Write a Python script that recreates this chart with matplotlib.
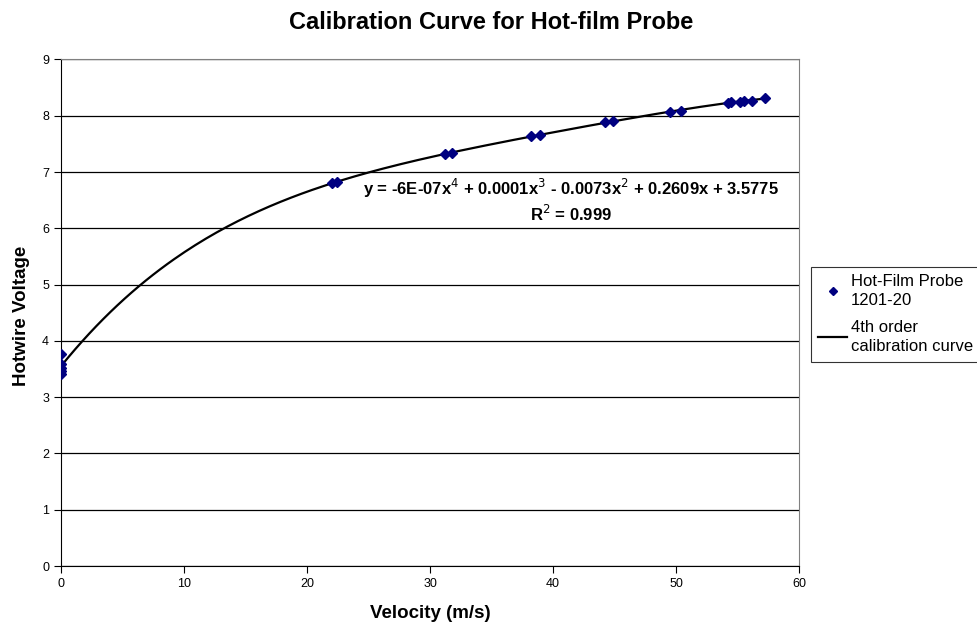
import matplotlib
matplotlib.use('Agg')
import matplotlib.pyplot as plt
import numpy as np

plt.rcParams['font.family'] = ['Liberation Sans', 'DejaVu Sans']

# Measured calibration points (velocity m/s, hotwire voltage)
velocity = [0, 0, 0, 0, 0,
            22.0, 22.4, 31.2, 31.8, 38.2, 38.9, 44.2, 44.85,
            49.5, 50.4, 54.2, 54.5, 55.2, 55.5, 56.2, 57.2]
voltage = [3.77, 3.59, 3.52, 3.46, 3.41,
           6.81, 6.82, 7.32, 7.33, 7.64, 7.66, 7.89, 7.90,
           8.07, 8.09, 8.23, 8.24, 8.25, 8.26, 8.27, 8.32]

# 4th order trendline fitted to the points
coef = np.polyfit(velocity, voltage, 4)
xfit = np.linspace(0, max(velocity), 200)
yfit = np.polyval(coef, xfit)

fig = plt.figure(figsize=(9.77, 6.32), dpi=100)
ax = fig.add_axes([0.0624, 0.1044, 0.7555, 0.8015])

ax.plot(xfit, yfit, color='black', lw=1.6, label='4th order\ncalibration curve', zorder=3)
ax.plot(velocity, voltage, linestyle='none', marker='D', markersize=5,
        color='#000080', label='Hot-Film Probe\n1201-20', zorder=4)

ax.set_xlim(0, 60)
ax.set_ylim(0, 9)
ax.set_xticks(range(0, 61, 10))
ax.set_yticks(range(0, 10))
ax.yaxis.grid(True, color='black', lw=0.9)
ax.set_axisbelow(True)
for side in ['top', 'right']:
    ax.spines[side].set_color('#808080')
for side in ['left', 'bottom']:
    ax.spines[side].set_color('black')
ax.tick_params(direction='out', length=5, labelsize=9, colors='black')

fig.suptitle('Calibration Curve for Hot-film Probe', x=0.503, y=0.982, va='top',
             fontsize=17, fontweight='bold')
fig.text(0.44, 0.03, 'Velocity (m/s)', ha='center', va='center',
         fontsize=13.5, fontweight='bold')
fig.text(0.0215, 0.5, 'Hotwire Voltage', ha='center', va='center', rotation=90,
         fontsize=13.5, fontweight='bold')

ax.text(0.691, 0.746, 'y = -6E-07x$^4$ + 0.0001x$^3$ - 0.0073x$^2$ + 0.2609x + 3.5775',
        transform=ax.transAxes, ha='center', va='center', fontsize=12, fontweight='bold')
ax.text(0.691, 0.695, 'R$^2$ = 0.999', transform=ax.transAxes, ha='center', va='center',
        fontsize=12, fontweight='bold')

handles, labels = ax.get_legend_handles_labels()
leg = fig.legend(handles[::-1], labels[::-1], loc='upper left', bbox_to_anchor=(0.830, 0.578),
                 fontsize=12, frameon=True, fancybox=False, edgecolor='black',
                 handlelength=1.7, handletextpad=0.25, borderpad=0.45, labelspacing=0.7,
                 borderaxespad=0, markerscale=0.75)
leg.get_frame().set_linewidth(0.8)
for t in leg.get_texts():
    t.set_linespacing(1.35)

fig.savefig('out.png', dpi=100)
